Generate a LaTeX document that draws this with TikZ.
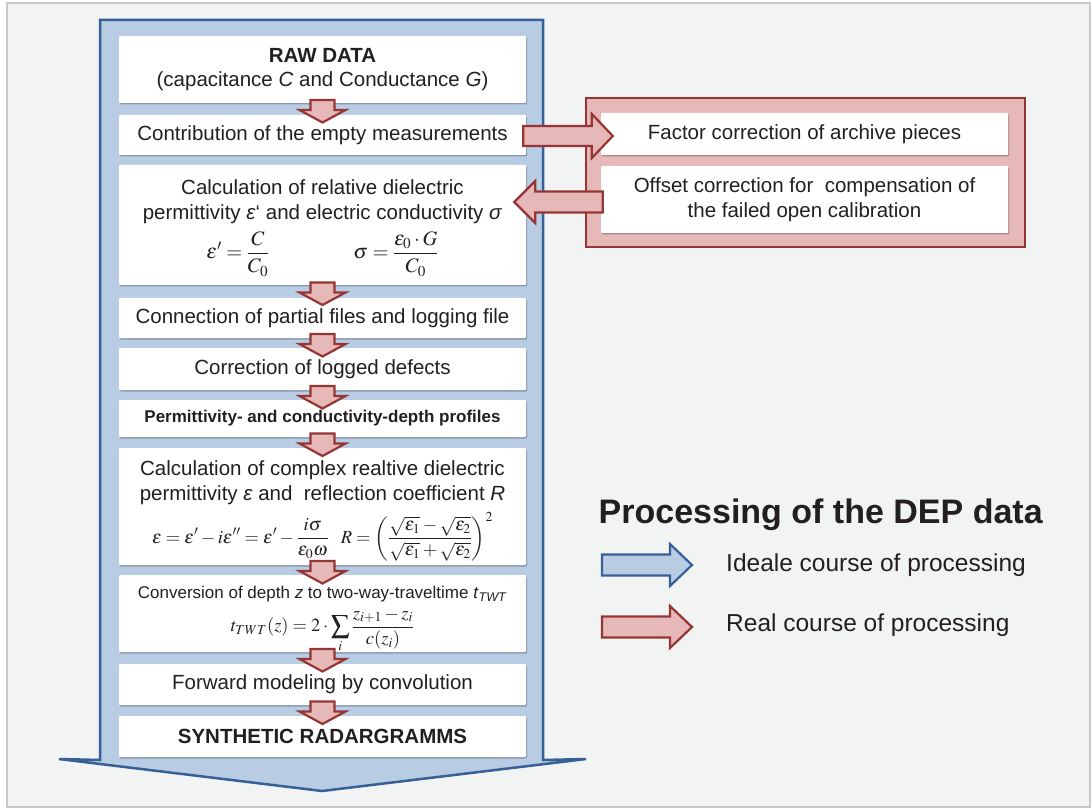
\documentclass[tikz,border=0pt]{standalone}
\usepackage{mathptmx}
\usepackage[no-math]{fontspec}
\setmainfont{Liberation Sans}
\usetikzlibrary{calc,shadows}
\definecolor{bgc}{RGB}{242,244,244}
\definecolor{framec}{RGB}{200,201,201}
\definecolor{bluefill}{RGB}{184,204,228}
\definecolor{blueline}{RGB}{54,96,150}
\definecolor{redfill}{RGB}{230,184,183}
\definecolor{redline}{RGB}{150,54,52}
\definecolor{txt}{RGB}{35,31,32}
\tikzset{
  wbox/.style={fill=white, draw=none, minimum width=407pt, align=center, inner sep=0pt,
    rounded corners=1pt, text=txt,
    drop shadow={shadow xshift=1pt, shadow yshift=-1.5pt, opacity=0.25, fill=black}},
  btxt/.style={align=center, inner sep=0pt, text=txt},
  redarr/.style={fill=redfill, draw=redline, line width=2.2pt, line join=miter},
  bluearr/.style={fill=bluefill, draw=blueline, line width=2.2pt, line join=miter},
}
\newcommand\dnarr[2]{%
  \coordinate (m#1#2) at ($(#1.south)!0.5!(#2.north)$);
  \draw[redarr, shift={(m#1#2)}] (-12,-9) -- (12,-9) -- (12,1) -- (23,1) -- (0,13.5)
     -- (-23,1) -- (-12,1) -- cycle;}
\begin{document}
\begin{tikzpicture}[x=1pt,y=-1pt, font=\fontsize{20.5}{24.5}\selectfont]
\useasboundingbox (0,0) rectangle (1092,810);
\fill[white] (0,0) rectangle (1092,810);
\draw[framec, line width=2.5pt, fill=bgc] (7,3) rectangle (1090,807);
% big blue arrow
\draw[bluearr, line width=2.5pt] (100,20) -- (543,20) -- (543,760) -- (586,759) -- (322,791)
   -- (59,759) -- (100,760) -- cycle;
% main boxes
\node[wbox, minimum height=67pt] (raw) at (322.5,69.5)
  {\bfseries RAW DATA\\(capacitance \textit{C} and Conductance \textit{G})};
\node[wbox, minimum height=40pt] (contrib) at (322.5,135)
  {Contribution of the empty measurements};
\node[wbox, minimum height=120pt] (calc) at (322.5,225) {};
\node[btxt] (calctxt) at (322.5,228)
  {Calculation of relative dielectric\\
   permittivity \textit{ε}‘ and electric conductivity \textit{σ}\\[7pt]
   $\displaystyle \varepsilon' = \frac{C}{C_0}$\hspace{84pt}$\displaystyle \sigma = \frac{\varepsilon_0\cdot G}{C_0}$};
\node[wbox, minimum height=40pt] (conn) at (322.5,318)
  {Connection of partial files and logging file};
\node[wbox, minimum height=42pt] (corr) at (322.5,369)
  {Correction of logged defects};
\node[wbox, minimum height=37pt, font=\bfseries\fontsize{17}{20}\selectfont] (prof) at (322.5,418.5)
  {Permittivity- and conductivity-depth profiles};
\node[wbox, minimum height=117pt] (cplx) at (322.5,506.5) {};
\node[btxt] (cplxtxt) at (322.5,511)
  {Calculation of complex realtive dielectric\\
   permittivity \textit{ε} and~ reflection coefficient \textit{R}\\[7pt]
   {\fontsize{18.5}{18.5}\selectfont $\displaystyle \varepsilon = \varepsilon' - i\varepsilon'' = \varepsilon' - \frac{i\sigma}{\varepsilon_0\omega}$\hspace{12pt}$\displaystyle R = \left(\frac{\sqrt{\varepsilon_1}-\sqrt{\varepsilon_2}}{\sqrt{\varepsilon_1}+\sqrt{\varepsilon_2}}\right)^{2}$}};
\node[wbox, minimum height=77pt] (conv) at (322.5,613.5) {};
\node[btxt, font=\fontsize{17}{20}\selectfont] (convtxt) at (322.5,619.5)
  {Conversion of depth \textit{z} to two-way-traveltime \textit{t}\textsubscript{\textit{TWT}}\\[5pt]
   {\fontsize{18.5}{18.5}\selectfont $\displaystyle t_{TWT}(z) = 2\cdot\sum_{i} \frac{z_{i+1}-z_{i}}{c(z_{i})}$}};
\node[wbox, minimum height=41pt] (fwd) at (322.5,684.5)
  {Forward modeling by convolution};
\node[wbox, minimum height=41pt] (synth) at (322.5,736.5)
  {\bfseries SYNTHETIC RADARGRAMMS};
% red group
\draw[fill=redfill, draw=redline, line width=2.5pt] (586,98) rectangle (1025,247);
\node[wbox, minimum height=42pt] (factor) at (804.5,134)
  {Factor correction of archive pieces};
\node[wbox, minimum height=67pt] (offset) at (804.5,199.5)
  {Offset correction for~ compensation of\\the failed open calibration};
% down arrows
\dnarr{raw}{contrib}
\dnarr{calc}{conn}
\dnarr{conn}{corr}
\dnarr{corr}{prof}
\dnarr{prof}{cplx}
\dnarr{cplx}{conv}
\dnarr{conv}{fwd}
\dnarr{fwd}{synth}
% side arrows
\coordinate (ra1) at ($(contrib.east)+(-3,1)$);
\coordinate (ra2) at ($(factor.west)+(12,2)$);
\draw[redarr] ($(ra1)+(0,-10)$) -- ($(ra2)+(-21,-10)$) -- ($(ra2)+(-21,-22)$) -- (ra2)
  -- ($(ra2)+(-21,22)$) -- ($(ra2)+(-21,10)$) -- ($(ra1)+(0,10)$) -- cycle;
\coordinate (la1) at ($(offset.west)+(2,2.5)$);
\coordinate (la2) at ($(calc.east)+(-12,-23)$);
\draw[redarr] ($(la1)+(0,-10.5)$) -- ($(la2)+(21,-10.5)$) -- ($(la2)+(21,-21)$) -- (la2)
  -- ($(la2)+(21,21)$) -- ($(la2)+(21,10.5)$) -- ($(la1)+(0,10.5)$) -- cycle;
% legend
\node[anchor=base west, inner sep=0pt, text=txt, font=\bfseries\fontsize{34}{40}\selectfont] (title) at (598.5,523)
  {Processing of the DEP data};
\draw[bluearr] (602,554.5) -- (670,554.5) -- (670,544) -- (692,565) -- (670,586) -- (670,575.5)
  -- (602,575.5) -- cycle;
\draw[redarr] (602,616.5) -- (670,616.5) -- (670,606) -- (692,627) -- (670,648) -- (670,637.5)
  -- (602,637.5) -- cycle;
\node[anchor=base west, inner sep=0pt, text=txt, font=\fontsize{24.5}{28}\selectfont] (lg1) at (726,571)
  {Ideale course of processing};
\node[anchor=base west, inner sep=0pt, text=txt, font=\fontsize{24.5}{28}\selectfont] (lg2) at (726,631)
  {Real course of processing};
\end{tikzpicture}
\end{document}
